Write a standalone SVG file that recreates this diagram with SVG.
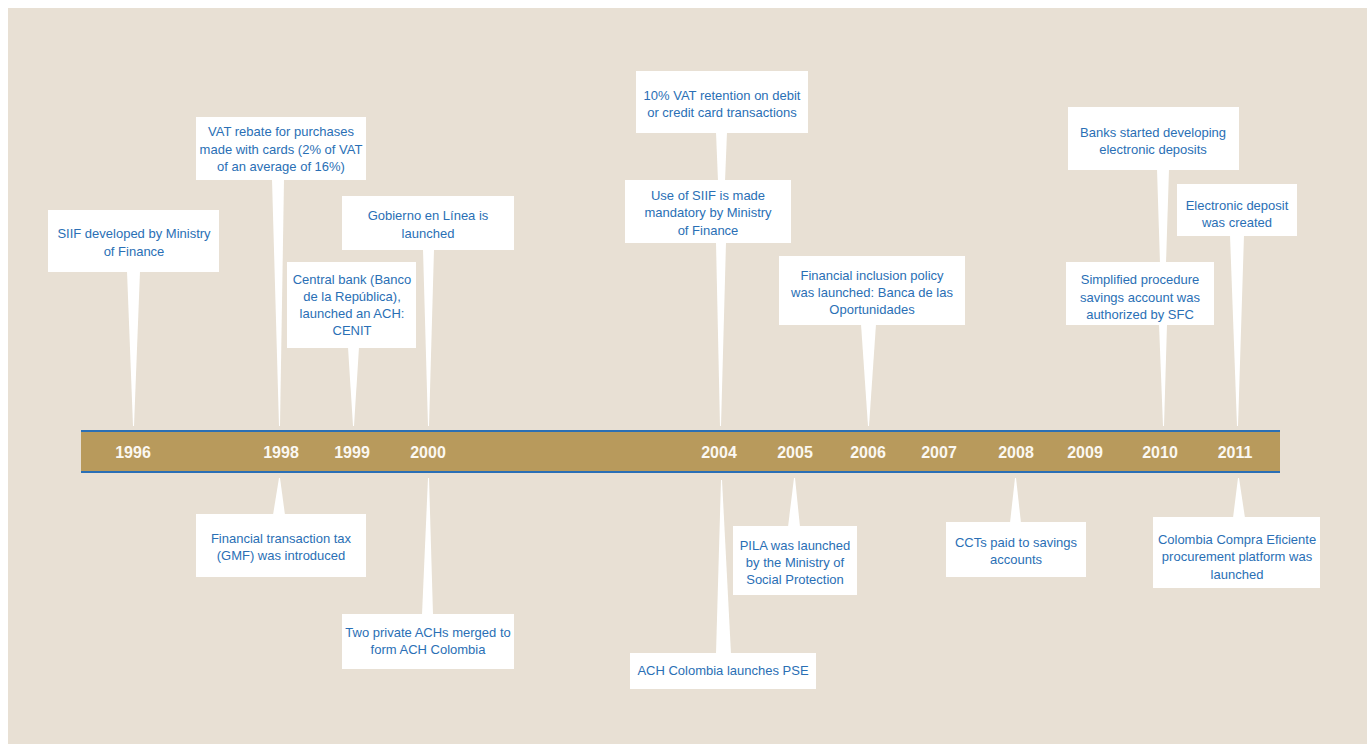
<svg xmlns="http://www.w3.org/2000/svg" width="1367" height="744" viewBox="0 0 1367 744">
<style>
.box{fill:#ffffff}
.ptr{fill:#ffffff}
.t{font-family:"Liberation Sans",Arial,sans-serif;font-size:13px;fill:#2a6fb5;text-anchor:middle}
.yr{font-family:"Liberation Sans",Arial,sans-serif;font-size:16px;font-weight:bold;fill:#fbf8f2;text-anchor:middle}
</style>
<rect x="0" y="0" width="1367" height="744" fill="#ffffff"/>
<rect x="8" y="8" width="1359" height="736" fill="#e8e0d4"/>
<g id="timeline-bar">
<rect x="81" y="431" width="1199" height="41" fill="#b89a5c"/>
<line x1="81" y1="431" x2="1280" y2="431" stroke="#2a6fb5" stroke-width="2"/>
<line x1="81" y1="472" x2="1280" y2="472" stroke="#2a6fb5" stroke-width="2"/>
<text class="yr" x="133" y="458">1996</text>
<text class="yr" x="281" y="458">1998</text>
<text class="yr" x="352" y="458">1999</text>
<text class="yr" x="428" y="458">2000</text>
<text class="yr" x="719" y="458">2004</text>
<text class="yr" x="795" y="458">2005</text>
<text class="yr" x="868" y="458">2006</text>
<text class="yr" x="939" y="458">2007</text>
<text class="yr" x="1016" y="458">2008</text>
<text class="yr" x="1085" y="458">2009</text>
<text class="yr" x="1160" y="458">2010</text>
<text class="yr" x="1235" y="458">2011</text>
</g>
<g id="connectors">
<polygon class="ptr" points="127,271 140,271 134,426 133,426"/>
<polygon class="ptr" points="272,179 284,179 280,426 279,426"/>
<polygon class="ptr" points="423,249 434,249 429,426 428,426"/>
<polygon class="ptr" points="348,347 359,347 354,426 353,426"/>
<polygon class="ptr" points="716,132 727,132 725,181 718,181"/>
<polygon class="ptr" points="716,242 726,242 721,426 720,426"/>
<polygon class="ptr" points="861,324 876,324 869,426 868,426"/>
<polygon class="ptr" points="1157,169 1169,169 1166,263 1160,263"/>
<polygon class="ptr" points="1230,235 1244,235 1238,426 1237,426"/>
<polygon class="ptr" points="1159,324 1167,324 1164,426 1163,426"/>
<polygon class="ptr" points="279,478 280,478 285,515 273,515"/>
<polygon class="ptr" points="428,478 429,478 433,615 422,615"/>
<polygon class="ptr" points="721,480 722,480 731,654 716,654"/>
<polygon class="ptr" points="794,478 795,478 800,527 788,527"/>
<polygon class="ptr" points="1015,478 1016,478 1021,523 1010,523"/>
<polygon class="ptr" points="1238,478 1239,478 1245,518 1233,518"/>
</g>
<g id="n1996"><rect class="box" x="48" y="210" width="171" height="62"/>
<text class="t" x="134" y="238">SIIF developed by Ministry</text><text class="t" x="134" y="256">of Finance</text></g>
<g id="n1998a"><rect class="box" x="196" y="117" width="170" height="63"/>
<text class="t" x="281" y="136">VAT rebate for purchases</text><text class="t" x="281" y="154">made with cards (2% of VAT</text><text class="t" x="281" y="171">of an average of 16%)</text></g>
<g id="n2000a"><rect class="box" x="342" y="196" width="172" height="54"/>
<text class="t" x="428" y="220">Gobierno en Línea is</text><text class="t" x="428" y="238">launched</text></g>
<g id="n1999"><rect class="box" x="287" y="262" width="129" height="86"/>
<text class="t" x="352" y="284">Central bank (Banco</text><text class="t" x="352" y="301">de la República),</text><text class="t" x="352" y="318">launched an ACH:</text><text class="t" x="352" y="335">CENIT</text></g>
<g id="n2004a"><rect class="box" x="636" y="71" width="172" height="62"/>
<text class="t" x="722" y="100">10% VAT retention on debit</text><text class="t" x="722" y="117">or credit card transactions</text></g>
<g id="n2004b"><rect class="box" x="625" y="180" width="166" height="63"/>
<text class="t" x="708" y="200">Use of SIIF is made</text><text class="t" x="708" y="217">mandatory by Ministry</text><text class="t" x="708" y="235">of Finance</text></g>
<g id="n2006"><rect class="box" x="779" y="256" width="186" height="69"/>
<text class="t" x="872" y="280">Financial inclusion policy</text><text class="t" x="872" y="297">was launched: Banca de las</text><text class="t" x="872" y="314">Oportunidades</text></g>
<g id="n2010a"><rect class="box" x="1068" y="107" width="171" height="63"/>
<text class="t" x="1153" y="137">Banks started developing</text><text class="t" x="1153" y="154">electronic deposits</text></g>
<g id="n2011a"><rect class="box" x="1177" y="184" width="120" height="52"/>
<text class="t" x="1237" y="210">Electronic deposit</text><text class="t" x="1237" y="227">was created</text></g>
<g id="n2010b"><rect class="box" x="1066" y="262" width="148" height="63"/>
<text class="t" x="1140" y="284">Simplified procedure</text><text class="t" x="1140" y="302">savings account was</text><text class="t" x="1140" y="319">authorized by SFC</text></g>
<g id="n1998b"><rect class="box" x="196" y="514" width="170" height="63"/>
<text class="t" x="281" y="543">Financial transaction tax</text><text class="t" x="281" y="560">(GMF) was introduced</text></g>
<g id="n2000b"><rect class="box" x="342" y="614" width="172" height="55"/>
<text class="t" x="428" y="637">Two private ACHs merged to</text><text class="t" x="428" y="654">form ACH Colombia</text></g>
<g id="n2004c"><rect class="box" x="630" y="653" width="186" height="36"/>
<text class="t" x="723" y="675">ACH Colombia launches PSE</text></g>
<g id="n2005"><rect class="box" x="733" y="526" width="124" height="69"/>
<text class="t" x="795" y="550">PILA was launched</text><text class="t" x="795" y="567">by the Ministry of</text><text class="t" x="795" y="584">Social Protection</text></g>
<g id="n2008"><rect class="box" x="946" y="522" width="140" height="55"/>
<text class="t" x="1016" y="547">CCTs paid to savings</text><text class="t" x="1016" y="564">accounts</text></g>
<g id="n2011b"><rect class="box" x="1153" y="517" width="167" height="71"/>
<text class="t" x="1237" y="544">Colombia Compra Eficiente</text><text class="t" x="1237" y="561">procurement platform was</text><text class="t" x="1237" y="579">launched</text></g>
</svg>
